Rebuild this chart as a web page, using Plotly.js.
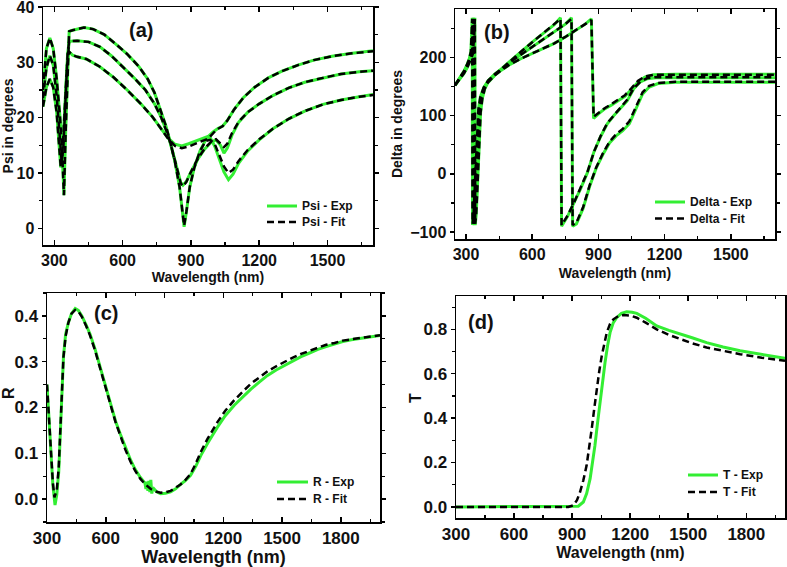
<!DOCTYPE html>
<html>
<head>
<meta charset="utf-8">
<script src="https://cdn.plot.ly/plotly-3.0.1.min.js"></script>
<style>html,body{margin:0;padding:0;background:#fff;}#chart{width:787px;height:567px;}</style>
</head>
<body>
<div id="chart"></div>
<script>
// ---------- Panel (a): Psi ----------
const psi1X = [250,265,280,295,310,325,335,342,350,358,365,380,400,430,470,520,570,620,670,710,740,770,790,810,830,850,862,870,880,895,915,940,965,985,1005,1025,1045,1065,1085,1110,1150,1200,1260,1330,1400,1480,1560,1640,1700];
const psi1Exp = [25,32.5,34.4,32.5,27,20,13,6,18,30,35.6,35.8,36,36.3,36,35,33.3,31.5,29.3,27,24.5,21,18.5,15.5,12,7.5,3.5,0.3,3,7.5,11,14,16,16.4,14.8,12.5,10.2,8.8,9.8,11.8,14,16,18,19.8,21.2,22.4,23.2,23.8,24.2];
const psi1Fit = [25,32.5,34.4,32.5,27,20,13,6,18,30,35.6,35.8,36,36.3,36,35,33.3,31.5,29.3,27,24.5,21,18.5,15.5,12,7.5,3.5,0.5,3,7.5,11,14,15.8,16,15.2,13.2,11.2,10,10.6,12.2,14.2,16.1,18,19.8,21.2,22.4,23.2,23.8,24.1];

const psi2X = [250,265,280,295,310,322,332,340,350,358,365,380,400,450,500,550,600,650,700,740,770,800,820,840,855,865,880,900,930,960,990,1010,1030,1045,1060,1080,1110,1150,1200,1260,1330,1400,1480,1560,1640,1700];
const psi2Exp = [23.5,29,31.2,29.5,24,17,12,15,25,31.5,33.8,33.8,33.9,33.7,32.8,31.2,29.2,27.2,25,22.5,20,16.8,13.8,10.5,8.3,7.8,8.5,10.2,12.5,14.3,15.6,16,15,13.6,14.5,16.8,19.2,21,22.5,24,25.4,26.4,27.2,27.9,28.3,28.5];
const psi2Fit = [23.5,29,31.2,29.5,24,17,12,15,25,31.5,33.8,33.8,33.9,33.7,32.8,31.2,29.2,27.2,25,22.5,20,16.8,13.8,10.5,8.2,7.6,8.4,10.2,12.6,14.4,15.7,16.1,15.4,14.7,15.3,17.2,19.3,21,22.5,24,25.4,26.4,27.2,27.9,28.3,28.5];

const psi3X = [250,265,280,295,310,320,328,336,345,355,362,368,380,400,440,500,560,620,680,730,770,800,830,860,890,920,950,975,1000,1020,1040,1060,1090,1130,1180,1240,1300,1370,1440,1520,1600,1700];
const psi3Exp = [22,25.5,27,25.5,21,16,11,14,22,29,32,31.8,31.3,31,30.6,29.2,27.3,25,22.5,20.2,18,16.3,15.2,14.9,15.3,15.8,16.3,16.6,17.5,18.1,18.5,19.5,21.5,23.6,25.5,27.2,28.4,29.5,30.4,31.1,31.6,32.1];
const psi3Fit = [22,25.5,27,25.5,21,16,11,14,22,29,32,31.8,31.3,31,30.6,29.2,27.3,25,22.5,20.2,18,16.2,14.9,14.5,14.8,15.3,15.9,16.2,17.3,18,18.5,19.5,21.5,23.6,25.5,27.2,28.4,29.5,30.4,31.1,31.6,32];

// ---------- Panel (b): Delta ----------
const delAX = [250,270,290,305,315,322,326,328,329.5,334,340,348,356,365,380,400,430,460,500,550,600,650,700,728,733,760,790,820,850,880,910,940,970,1000,1030,1060,1090,1120,1160,1300,1500,1700];
const delAExp = [152,163,176,188,198,210,235,268,-88,-70,-20,60,110,132,148,160,171,180,194,210,226,241,256,268,-90,-73,-50,-25,2,38,64,86,100,112,125,146,158,163,165,165,165,165];
const delAFit = [152,163,176,188,198,210,235,266,-86,-70,-20,60,110,132,148,160,171,180,194,210,226,241,256,266,-88,-72,-49,-24,3,38,65,87,101,113,127,147,158,164,166,166,166,166];

const delBX = [250,270,290,305,318,326,331,334,335.5,340,346,352,360,368,380,400,430,460,500,550,600,650,700,750,778,783,800,830,860,890,920,950,980,1010,1040,1070,1100,1130,1170,1250,1500,1700];
const delBExp = [152,162,174,185,196,208,235,268,-88,-70,-20,50,105,130,146,159,170,179,192,205,218,231,244,257,268,-90,-86,-60,-22,10,33,53,65,74,86,112,137,149,155,157,157,157];
const delBFit = [152,162,174,185,196,208,235,266,-86,-70,-20,50,105,130,146,159,170,179,192,205,218,231,244,257,266,-88,-84,-58,-20,11,35,55,68,77,90,116,140,151,156,158,158,158];

const delCX = [250,270,290,305,320,330,337,340,341.5,346,352,358,366,374,385,400,430,460,500,550,600,650,700,750,800,840,868,878,900,930,960,990,1020,1050,1080,1110,1150,1250,1500,1700];
const delCExp = [152,161,172,182,194,205,235,268,-88,-70,-20,50,105,130,146,157,169,178,188,198,207,215,224,235,247,257,266,95,103,112,118,125,133,145,158,166,170,171,171,171];
const delCFit = [152,161,172,182,194,205,235,266,-86,-70,-20,50,105,130,146,157,169,178,188,198,207,215,224,235,247,257,264,98,105,113,120,127,135,147,160,167,170,170,170,170];

// ---------- Panel (c): R ----------
const rExpX = [300,310,320,330,341,350,360,370,384,395,409,425,444,460,478,500,520,545,572,600,623,650,674,700,726,750,777,800,805,810,815,820,825,830,835,840,860,880,905,931,955,982,1005,1033,1060,1085,1120,1170,1210,1256,1300,1341,1385,1426,1470,1512,1555,1597,1640,1683,1725,1768,1810,1854,1900,1950,2000];
const rExp = [0.25,0.17,0.09,0.03,-0.013,0.01,0.06,0.15,0.31,0.36,0.385,0.405,0.416,0.412,0.4,0.38,0.36,0.328,0.288,0.248,0.21,0.17,0.142,0.112,0.086,0.065,0.047,0.035,0.022,0.038,0.018,0.04,0.015,0.042,0.012,0.025,0.016,0.012,0.013,0.016,0.022,0.032,0.04,0.052,0.072,0.095,0.122,0.157,0.182,0.205,0.224,0.24,0.256,0.27,0.282,0.292,0.302,0.311,0.319,0.327,0.333,0.339,0.344,0.348,0.351,0.354,0.357];
const rFitX = [300,310,320,330,338,350,360,370,384,395,409,425,444,460,478,500,520,545,572,600,623,650,674,700,726,750,777,800,830,860,880,905,931,955,982,1005,1033,1060,1085,1120,1170,1210,1256,1300,1341,1385,1426,1470,1512,1555,1597,1640,1683,1725,1768,1810,1854,1900,1950,2000];
const rFit = [0.25,0.17,0.1,0.035,0.004,0.02,0.07,0.16,0.31,0.355,0.385,0.405,0.413,0.41,0.398,0.378,0.357,0.325,0.286,0.246,0.208,0.168,0.138,0.108,0.082,0.062,0.044,0.033,0.022,0.016,0.014,0.015,0.018,0.024,0.032,0.041,0.055,0.078,0.103,0.132,0.168,0.193,0.216,0.235,0.252,0.266,0.279,0.29,0.3,0.309,0.317,0.324,0.331,0.337,0.341,0.346,0.349,0.352,0.355,0.358];

// ---------- Panel (d): T ----------
const tExpX = [300,500,700,900,932,958,975,993,1005,1018,1031,1044,1057,1070,1083,1096,1113,1130,1155,1182,1210,1234,1280,1337,1400,1458,1520,1595,1680,1768,1880,2000];
const tExp = [0,0,0,0,0.003,0.022,0.06,0.127,0.19,0.277,0.375,0.471,0.565,0.65,0.725,0.785,0.83,0.852,0.872,0.879,0.877,0.872,0.85,0.815,0.795,0.78,0.762,0.74,0.72,0.703,0.686,0.67];
const tFitX = [300,500,700,880,906,925,941,958,975,988,1001,1014,1027,1040,1053,1066,1079,1096,1113,1140,1165,1200,1234,1280,1337,1400,1458,1520,1595,1680,1768,1880,2000];
const tFit = [0,0,0,0,0.007,0.03,0.067,0.12,0.187,0.26,0.35,0.44,0.53,0.61,0.68,0.74,0.785,0.825,0.845,0.86,0.864,0.862,0.852,0.83,0.8,0.775,0.755,0.737,0.718,0.702,0.688,0.672,0.658];

// legend texts, panel labels, y titles
const legendTexts = [['Psi - Exp', 'Psi - Fit'], ['Delta - Exp', 'Delta - Fit'], ['R - Exp', 'R - Fit'], ['T - Exp', 'T - Fit']];
const panelLabels = ['(a)', '(b)', '(c)', '(d)'];
const yTitles = ['R', 'T'];

// ---------- styling ----------
const GREEN = '#33ee33';
const FONT = 'Liberation Sans, Arial, sans-serif';
const W = 787, H = 567;
const expLine = {color: GREEN, width: 3};
const fitLine = {color: '#000', width: 2.5, dash: '7px,4px'};

function tr(x, y, xa, ya, line, name) {
  return {x: x, y: y, xaxis: xa, yaxis: ya, type: 'scatter', mode: 'lines', line: line,
          name: name, showlegend: false, hoverinfo: 'skip'};
}

const data = [
  tr(psi1X, psi1Exp, 'x', 'y', expLine, 'Psi - Exp'),
  tr(psi2X, psi2Exp, 'x', 'y', expLine, 'Psi - Exp'),
  tr(psi3X, psi3Exp, 'x', 'y', expLine, 'Psi - Exp'),
  tr(psi1X, psi1Fit, 'x', 'y', fitLine, 'Psi - Fit'),
  tr(psi2X, psi2Fit, 'x', 'y', fitLine, 'Psi - Fit'),
  tr(psi3X, psi3Fit, 'x', 'y', fitLine, 'Psi - Fit'),

  tr(delAX, delAExp, 'x2', 'y2', expLine, 'Delta - Exp'),
  tr(delBX, delBExp, 'x2', 'y2', expLine, 'Delta - Exp'),
  tr(delCX, delCExp, 'x2', 'y2', expLine, 'Delta - Exp'),
  tr(delAX, delAFit, 'x2', 'y2', fitLine, 'Delta - Fit'),
  tr(delBX, delBFit, 'x2', 'y2', fitLine, 'Delta - Fit'),
  tr(delCX, delCFit, 'x2', 'y2', fitLine, 'Delta - Fit'),

  tr(rExpX, rExp, 'x3', 'y3', expLine, 'R - Exp'),
  tr(rFitX, rFit, 'x3', 'y3', fitLine, 'R - Fit'),

  tr(tExpX, tExp, 'x4', 'y4', expLine, 'T - Exp'),
  tr(tFitX, tFit, 'x4', 'y4', fitLine, 'T - Fit')
];

function xAxis(px0, px1, range, anchor, fs, title, tfs, standoff) {
  return {domain: [px0 / W, px1 / W], range: range, anchor: anchor,
    tick0: 0, dtick: 300, ticks: 'inside', ticklen: 5, tickwidth: 1.5, tickcolor: '#000',
    minor: {ticks: 'inside', ticklen: 3, tickwidth: 1.2, tickcolor: '#000', tick0: 0, dtick: 150, showgrid: false},
    showline: true, linecolor: '#000', linewidth: 1.5, mirror: 'ticks',
    showgrid: false, zeroline: false, ticklabeloverflow: 'allow',
    tickfont: {family: FONT, size: fs, color: '#111', weight: 'bold'},
    title: {text: title, font: {family: FONT, size: tfs, color: '#111', weight: 'bold'}, standoff: standoff}};
}
function yAxis(py0, py1, range, anchor, dtick, mdtick, fmt, fs, title, tfs, standoff) {
  return {domain: [1 - py1 / H, 1 - py0 / H], range: range, anchor: anchor,
    tick0: 0, dtick: dtick, tickformat: fmt, ticks: 'outside', ticklen: 4, tickwidth: 1.5, tickcolor: '#000',
    minor: {ticks: 'outside', ticklen: 3, tickwidth: 1.2, tickcolor: '#000', tick0: 0, dtick: mdtick, showgrid: false},
    showline: true, linecolor: '#000', linewidth: 1.5, mirror: 'ticks',
    showgrid: false, zeroline: false, ticklabeloverflow: 'allow',
    tickfont: {family: FONT, size: fs, color: '#111', weight: 'bold'},
    title: {text: title, font: {family: FONT, size: tfs, color: '#111', weight: 'bold'}, standoff: standoff}};
}

// manual legends: [line x0, line x1, y of first row, row gap]
const legendPos = [[267, 297, 206, 16], [655, 685, 202, 16.5], [277, 308, 482, 17], [688, 718, 475, 17]];
const shapes = [];
const annotations = [];
legendPos.forEach(function (p, i) {
  [0, 1].forEach(function (k) {
    const yy = 1 - (p[2] + k * p[3]) / H;
    shapes.push({type: 'line', xref: 'paper', yref: 'paper', x0: p[0] / W, x1: p[1] / W, y0: yy, y1: yy,
      line: k === 0 ? {color: GREEN, width: 3} : {color: '#000', width: 2.5, dash: '7px,4px'}});
    annotations.push({text: legendTexts[i][k], xref: 'paper', yref: 'paper', x: (p[1] + 3) / W, y: yy,
      xanchor: 'left', yanchor: 'middle', showarrow: false,
      font: {family: FONT, size: 12, color: '#111', weight: 'bold'}});
  });
});
const labelPos = [[141, 30], [497, 32], [106, 313], [481, 322]];
labelPos.forEach(function (p, i) {
  annotations.push({text: panelLabels[i], x: p[0] / W, y: 1 - p[1] / H, xref: 'paper', yref: 'paper', showarrow: false,
    xanchor: 'center', yanchor: 'middle', font: {family: FONT, size: 20, color: '#111', weight: 'bold'}});
});
// y titles for (c) and (d), placed as in the reference (slightly above centre)
const yTitlePos = [[8, 393], [415, 398]];
yTitlePos.forEach(function (p, i) {
  annotations.push({text: yTitles[i], x: p[0] / W, y: 1 - p[1] / H, xref: 'paper', yref: 'paper', showarrow: false,
    textangle: -90, xanchor: 'center', yanchor: 'middle', font: {family: FONT, size: 16, color: '#111', weight: 'bold'}});
});

const layout = {
  width: W, height: H, margin: {l: 0, r: 0, t: 0, b: 0},
  paper_bgcolor: '#fff', plot_bgcolor: '#fff', showlegend: false,
  xaxis:  xAxis(43, 373, [250, 1700], 'y', 16, 'Wavelength (nm)', 14, 0),
  yaxis:  yAxis(7, 245, [-3, 40], 'x', 10, 5, '', 16, 'Psi in degrees', 14, 4),
  xaxis2: xAxis(455, 775, [250, 1700], 'y2', 16, 'Wavelength (nm)', 14, 6),
  yaxis2: yAxis(9, 239, [-112, 283], 'x2', 100, 50, '', 16, 'Delta in degrees', 14, 4),
  xaxis3: xAxis(47, 380, [300, 2000], 'y3', 17, 'Wavelength (nm)', 18, 0),
  yaxis3: yAxis(293, 522, [-0.05, 0.45], 'x3', 0.1, 0.05, '.1f', 17, '', 16, 6),
  xaxis4: xAxis(456, 785, [300, 2000], 'y4', 17, 'Wavelength (nm)', 16, 2),
  yaxis4: yAxis(296, 518, [-0.05, 0.95], 'x4', 0.2, 0.1, '.1f', 17, '', 16, 4),
  shapes: shapes,
  annotations: annotations
};

Plotly.newPlot('chart', data, layout, {staticPlot: true, displayModeBar: false});
</script>
</body>
</html>
